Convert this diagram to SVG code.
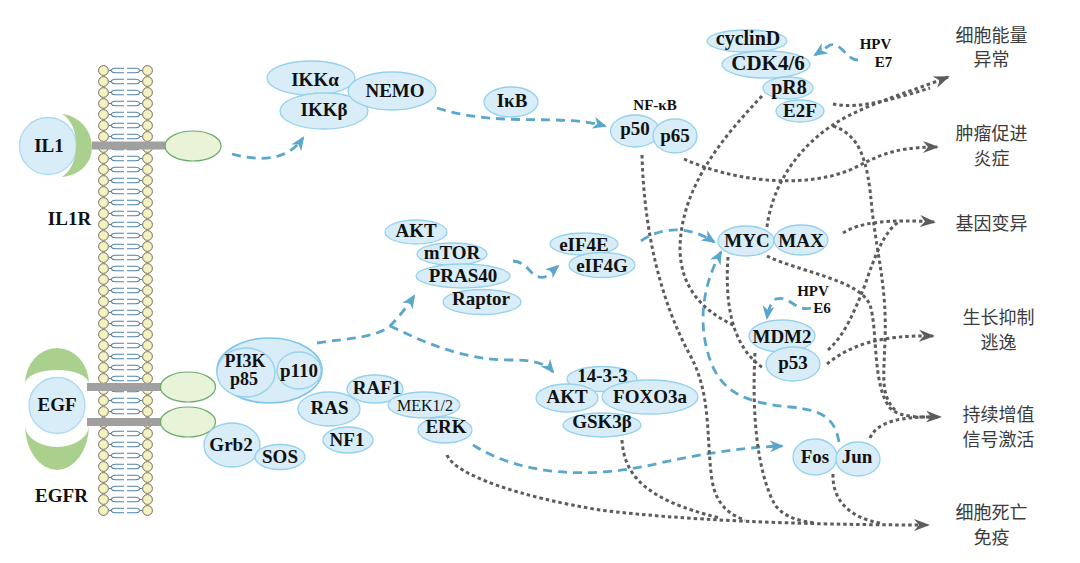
<svg xmlns="http://www.w3.org/2000/svg" width="1080" height="563" viewBox="0 0 1080 563">
<defs>
<style>
.n{fill:#d8edf7;stroke:#95d1ee;stroke-width:1.3}
.t{font-family:"Liberation Serif","Times New Roman",serif;font-weight:bold;font-size:19px;text-anchor:middle;fill:#111}
.s{font-size:15px}
.r{font-weight:normal;font-size:16px}
.c{font-family:"Noto Sans CJK SC","Noto Sans",sans-serif;font-size:18px;text-anchor:middle;fill:#3c3c3c}
.bl{fill:none;stroke:#5ba7cb;stroke-width:2.8;stroke-dasharray:9 6}
.gr{fill:none;stroke:#5c5c5c;stroke-width:3;stroke-dasharray:3.5 3}
.bar{fill:#a0a0a0}
.grn{fill:#aad08e}
.rec{fill:#e8f3d8;stroke:#6aab6a;stroke-width:1.2}
</style>
<pattern id="lipid" patternUnits="userSpaceOnUse" x="95" y="65" width="60" height="11">
<path d="M14 5.5H16C17 3.2 18 3.2 20 3.2H29M16 5.5C17 7.8 18 7.8 20 7.8H29M47 5.5H45C44 3.2 43 3.2 41 3.2H32M45 5.5C44 7.8 43 7.8 41 7.8H32" fill="none" stroke="#4f83a6" stroke-width="1.1"/>
<circle cx="8.5" cy="5.5" r="4.9" fill="#f6f1c1" stroke="#6f6d55" stroke-width="1"/>
<circle cx="52.5" cy="5.5" r="4.9" fill="#f6f1c1" stroke="#6f6d55" stroke-width="1"/>
</pattern>
<marker id="ab" viewBox="0 0 14 12" refX="12" refY="6" markerWidth="14" markerHeight="12" markerUnits="userSpaceOnUse" orient="auto">
<path d="M0,0L14,6L0,12L4,6Z" fill="#5ba7cb"/>
</marker>
<marker id="ag" viewBox="0 0 16 12" refX="14" refY="6" markerWidth="16" markerHeight="12" markerUnits="userSpaceOnUse" orient="auto">
<path d="M0,0L16,6L0,12L5,6Z" fill="#5c5c5c"/>
</marker>
</defs>
<rect width="1080" height="563" fill="#fff"/>

<g id="membrane">
<rect x="95" y="65" width="60" height="451" fill="url(#lipid)"/>
</g>

<g id="IL1R">
<circle cx="48" cy="146" r="28.5" fill="#d8edf7" stroke="#a9daf3" stroke-width="1.3"/>
<path class="grn" d="M62 114C98 118 106 172 62 177C80 166 82 126 62 114Z"/>
<rect class="bar" x="92" y="141.5" width="75" height="8"/>
<ellipse class="rec" cx="193" cy="146" rx="28" ry="15"/>
<text class="t" x="49" y="152">IL1</text>
<text class="t" x="69.5" y="225">IL1R</text>
</g>

<g id="EGFR">
<path class="grn" d="M25 384A32 36 0 0 1 89 384A32 14 0 0 0 25 384Z"/>
<path class="grn" d="M25 425A32 45 0 0 0 89 425A32 22 0 0 1 25 425Z"/>
<circle cx="57" cy="405.5" r="28" fill="#d8edf7" stroke="#a9daf3" stroke-width="1.3"/>
<rect class="bar" x="87" y="383" width="74" height="8"/>
<rect class="bar" x="87" y="418" width="74" height="8"/>
<ellipse class="rec" cx="188" cy="387" rx="27.5" ry="15"/>
<ellipse class="rec" cx="188" cy="422" rx="27.5" ry="15"/>
<text class="t" x="57" y="411">EGF</text>
<text class="t" x="61.5" y="502">EGFR</text>
</g>

<g id="connectors">
<path class="bl" d="M232 154C262 162 288 160 303 138" marker-end="url(#ab)"/>
<path class="bl" d="M437 108C500 128 560 113 605 126" marker-end="url(#ab)"/>
<path class="bl" d="M317 343C350 338 375 338 390 326C398 318 407 307 414 296" marker-end="url(#ab)"/>
<path class="bl" d="M390 326C420 340 460 360 510 360C530 360 545 362 553 372" marker-end="url(#ab)"/>
<path class="bl" d="M513 261C530 262 530 280 545 277L558 266" marker-end="url(#ab)"/>
<path class="bl" d="M641 241C662 226 690 226 714 242" marker-end="url(#ab)"/>
<path class="bl" d="M473 445C520 475 590 480 660 463C710 452 750 447 782 446" marker-end="url(#ab)"/>
<path class="bl" d="M839 442C835 420 825 410 790 407C750 403 725 395 712 365C698 330 700 290 721 252" marker-end="url(#ab)"/>
<path class="bl" d="M811 308C795 312 790 295 776 299C771 302 768 310 767 318" marker-end="url(#ab)"/>
<path class="bl" d="M858 60C846 60 842 42 830 45L815 55" marker-end="url(#ab)"/>

<path class="gr" d="M447 455C455 475 520 497 600 510C680 520 800 525 928 525" marker-end="url(#ag)"/>
<path class="gr" d="M622 440C624 475 645 500 720 518"/>
<path class="gr" d="M642 155C644 230 660 300 690 355C712 395 706 440 712 480C716 505 730 515 745 520"/>
<path class="gr" d="M755 353C752 410 756 470 775 505C785 518 800 521 815 523"/>
<path class="gr" d="M833 474C832 500 850 518 880 523"/>
<path class="gr" d="M762 96C720 140 680 190 680 250C681 290 705 312 735 326"/>
<path class="gr" d="M728 257C725 300 730 345 763 368"/>
<path class="gr" d="M767 227C772 185 800 140 850 115C880 100 915 90 948 77" marker-end="url(#ag)"/>
<path class="gr" d="M833 104C860 110 900 97 930 88"/>
<path class="gr" d="M684 159C730 180 800 190 850 170C875 158 890 147 937 147" marker-end="url(#ag)"/>
<path class="gr" d="M843 233C860 222 890 219 934 222" marker-end="url(#ag)"/>
<path class="gr" d="M828 350C845 335 855 310 865 285C875 255 885 230 900 221"/>
<path class="gr" d="M827 364C850 345 880 335 933 336" marker-end="url(#ag)"/>
<path class="gr" d="M767 256C800 272 860 280 870 305C878 330 872 385 890 408C900 418 920 417 935 417"/>
<path class="gr" d="M833 126C860 135 868 160 872 210C878 260 887 290 885 340C884 375 880 395 895 410"/>
<path class="gr" d="M870 438C877 422 900 416 940 417" marker-end="url(#ag)"/>
</g>

<g id="IKK">
<ellipse class="n" cx="311" cy="78" rx="44" ry="17"/>
<ellipse class="n" cx="324" cy="111" rx="44" ry="18"/>
<ellipse class="n" cx="392" cy="91" rx="44" ry="19"/>
<text class="t" x="315" y="86">IKKα</text>
<text class="t" x="324" y="116">IKKβ</text>
<text class="t" x="395" y="97">NEMO</text>
</g>
<g id="IkB">
<ellipse class="n" cx="511" cy="102" rx="27" ry="15"/>
<text class="t" x="512" y="107">IκB</text>
</g>
<g id="NFkB">
<text class="t s" x="655" y="110">NF-κB</text>
<ellipse class="n" cx="635" cy="131" rx="24.5" ry="16"/>
<ellipse class="n" cx="675" cy="136" rx="22" ry="17"/>
<text class="t" x="635" y="135">p50</text>
<text class="t" x="675" y="142">p65</text>
</g>
<g id="mTOR">
<ellipse class="n" cx="416" cy="232" rx="31" ry="12"/>
<ellipse class="n" cx="452" cy="254" rx="35" ry="11"/>
<ellipse class="n" cx="463" cy="276" rx="47" ry="12"/>
<ellipse class="n" cx="482" cy="302" rx="39" ry="12.5"/>
<text class="t" x="416" y="237">AKT</text>
<text class="t" x="452" y="259">mTOR</text>
<text class="t" x="463" y="282">PRAS40</text>
<text class="t" x="481" y="305">Raptor</text>
</g>
<g id="eIF4">
<ellipse class="n" cx="584" cy="244" rx="34" ry="11"/>
<ellipse class="n" cx="602" cy="265" rx="33" ry="12.5"/>
<text class="t" x="584" y="251">eIF4E</text>
<text class="t" x="602" y="272">eIF4G</text>
</g>
<g id="CDK">
<ellipse class="n" cx="747" cy="41" rx="40" ry="11"/>
<ellipse class="n" cx="766" cy="64.5" rx="44" ry="13.5"/>
<ellipse class="n" cx="788" cy="88" rx="25" ry="11"/>
<ellipse class="n" cx="800" cy="111" rx="24" ry="11"/>
<text class="t" x="748" y="45" style="font-size:20px">cyclinD</text>
<text class="t" x="768" y="70" style="font-size:21px">CDK4/6</text>
<text class="t" x="789" y="94" style="font-size:20px">pR8</text>
<text class="t" x="800" y="117">E2F</text>
</g>
<g id="HPVE7">
<text class="t s" x="875.5" y="49">HPV</text>
<text class="t s" x="883.5" y="67">E7</text>
</g>
<g id="MYC">
<ellipse class="n" cx="746" cy="241" rx="28" ry="15"/>
<ellipse class="n" cx="801" cy="240" rx="27" ry="15"/>
<text class="t" x="747" y="247">MYC</text>
<text class="t" x="801" y="247">MAX</text>
</g>
<g id="HPVE6">
<text class="t s" x="813" y="296">HPV</text>
<text class="t s" x="822" y="313">E6</text>
</g>
<g id="p53">
<ellipse class="n" cx="782" cy="336" rx="33" ry="16"/>
<ellipse class="n" cx="793" cy="364" rx="27" ry="17"/>
<text class="t" x="782" y="343">MDM2</text>
<text class="t" x="793" y="369">p53</text>
</g>
<g id="AP1">
<ellipse class="n" cx="815" cy="457" rx="22" ry="18"/>
<ellipse class="n" cx="858" cy="459" rx="22" ry="17"/>
<text class="t" x="815" y="463">Fos</text>
<text class="t" x="857" y="463">Jun</text>
</g>
<g id="PI3K">
<ellipse cx="269.5" cy="370.5" rx="52.5" ry="32.5" fill="#d8edf7" stroke="#7cc4ea" stroke-width="1.6"/>
<ellipse class="n" cx="246" cy="372.5" rx="29" ry="24.5"/>
<ellipse class="n" cx="299" cy="370.5" rx="22" ry="18.5"/>
<text class="t" x="245" y="367" style="font-size:18px">PI3K</text>
<text class="t" x="244" y="385" style="font-size:18px">p85</text>
<text class="t" x="299" y="377">p110</text>
</g>
<g id="Grb2">
<ellipse class="n" cx="232" cy="445" rx="28" ry="22"/>
<ellipse class="n" cx="280" cy="457" rx="25" ry="12.5"/>
<text class="t" x="231" y="451">Grb2</text>
<text class="t" x="280" y="463">SOS</text>
</g>
<g id="MAPK">
<ellipse class="n" cx="329" cy="409" rx="31" ry="17"/>
<ellipse class="n" cx="375" cy="389" rx="28" ry="14"/>
<ellipse class="n" cx="424" cy="405" rx="36" ry="13"/>
<ellipse class="n" cx="445" cy="430" rx="27" ry="13"/>
<ellipse class="n" cx="348" cy="440" rx="25" ry="13"/>
<text class="t" x="329.5" y="414">RAS</text>
<text class="t" x="377" y="394">RAF1</text>
<text class="t r" x="425" y="411">MEK1/2</text>
<text class="t" x="446" y="433">ERK</text>
<text class="t" x="347" y="446">NF1</text>
</g>
<g id="FOXO">
<ellipse class="n" cx="602" cy="379" rx="35" ry="12.5"/>
<ellipse class="n" cx="567" cy="398" rx="31" ry="14"/>
<ellipse class="n" cx="650" cy="397" rx="48" ry="17"/>
<ellipse class="n" cx="602" cy="425" rx="39" ry="12"/>
<text class="t" x="602.5" y="382">14-3-3</text>
<text class="t" x="567" y="403">AKT</text>
<text class="t" x="650" y="403">FOXO3a</text>
<text class="t" x="602" y="428">GSK3β</text>
</g>

<g id="hallmarks">
<text class="c" x="991.5" y="41.5">细胞能量</text>
<text class="c" x="991.5" y="66">异常</text>
<text class="c" x="991.5" y="140">肿瘤促进</text>
<text class="c" x="991.5" y="164.5">炎症</text>
<text class="c" x="991.5" y="230">基因变异</text>
<text class="c" x="998.5" y="324">生长抑制</text>
<text class="c" x="998.5" y="349">逃逸</text>
<text class="c" x="998.5" y="421">持续增值</text>
<text class="c" x="998.5" y="445.5">信号激活</text>
<text class="c" x="991.5" y="519">细胞死亡</text>
<text class="c" x="991.5" y="543.5">免疫</text>
</g>
</svg>
